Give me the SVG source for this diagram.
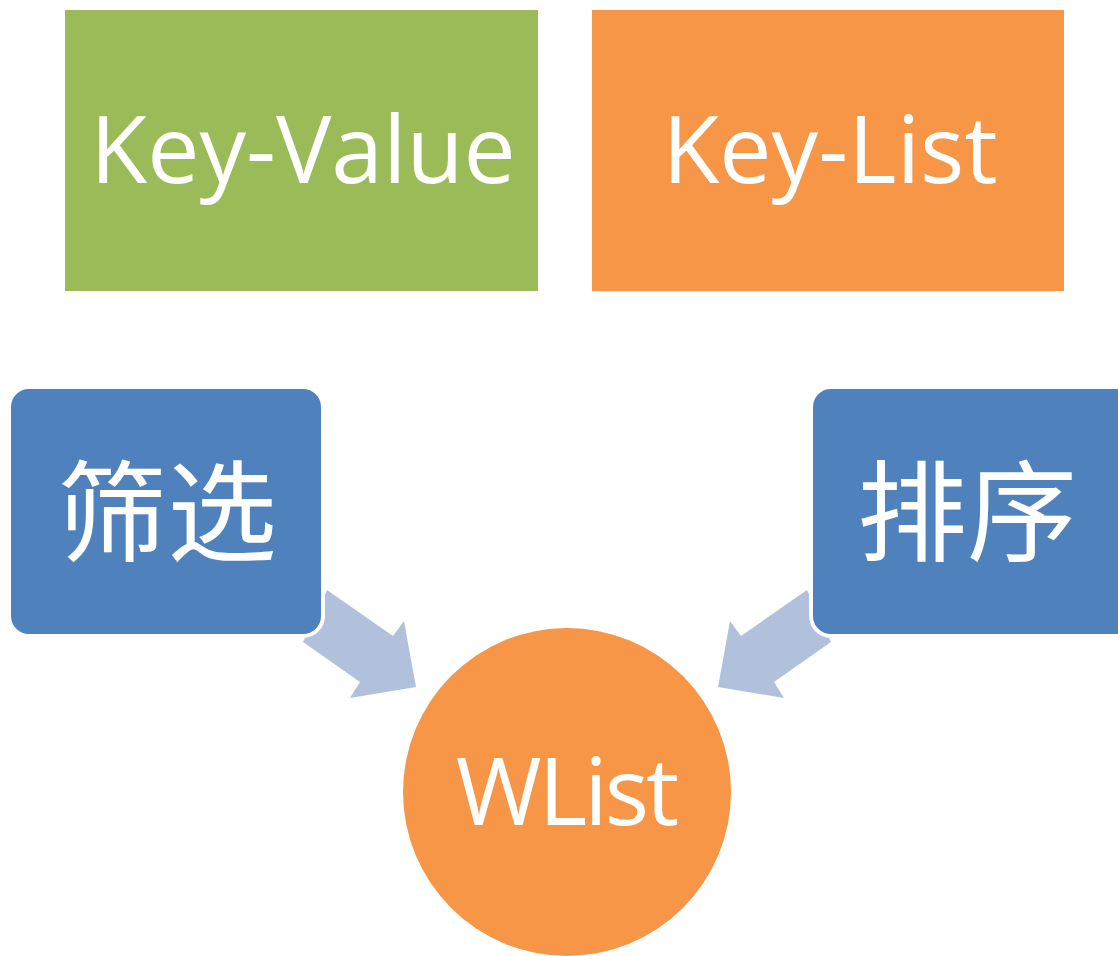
<svg xmlns="http://www.w3.org/2000/svg" width="1118" height="956" viewBox="0 0 1118 956">
<style>
.lat{font-family:"Open Sans","Noto Sans",sans-serif;fill:#fff;text-anchor:middle}
.cjk{font-family:"Noto Sans CJK SC","Noto Sans",sans-serif;fill:#fff;text-anchor:middle}
.arr{fill:#B2C1DB}
.blue{fill:#4F81BD;stroke:#fff;stroke-width:4}
</style>
<rect width="1118" height="956" fill="#fff"/>
<g id="connectors">
<polygon class="arr" points="327,590 393,636 404,621 416,687 350,698 360,682 303,642"/>
<polygon class="arr" points="807,590 741,636 730,621 718,687 784,698 774,682 831,642"/>
</g>
<g id="keyvalue">
<rect x="65" y="10" width="473" height="281" fill="#9BBB59"/>
<text class="lat" x="303" y="183" font-size="93">Key-Value</text>
</g>
<g id="keylist">
<rect x="592" y="10" width="472" height="281" fill="#F79646"/>
<text class="lat" x="830" y="183" font-size="93">Key-List</text>
</g>
<g id="filter">
<rect class="blue" x="9" y="387" width="314" height="249" rx="20"/>
<text class="cjk" x="167" y="553" font-size="110">筛选</text>
</g>
<g id="sort">
<rect class="blue" x="811" y="387" width="330" height="249" rx="20"/>
<text class="cjk" x="967" y="553" font-size="110">排序</text>
</g>
<g id="wlist">
<circle cx="567" cy="792" r="164" fill="#F79646"/>
<text class="lat" x="566" y="825" font-size="93" letter-spacing="-3">WList</text>
</g>
</svg>
